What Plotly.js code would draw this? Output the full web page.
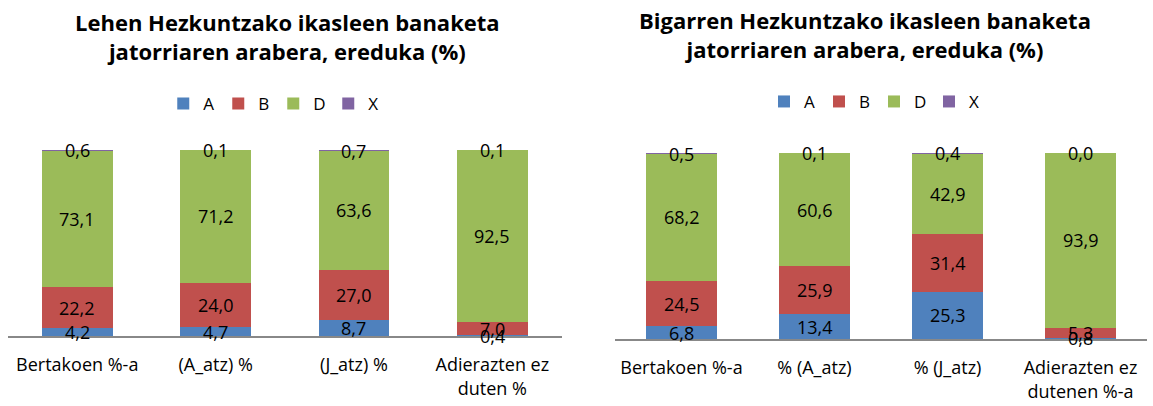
<!DOCTYPE html>
<html><head><meta charset="utf-8">
<script src="https://cdn.plot.ly/plotly-3.0.1.min.js"></script>
<style>body{margin:0}#c{width:1153px;height:406px}</style>
</head><body><div id="c"></div>
<script>
const series = ['A','B','D','X'];
const colors = ['#4F81BD','#C0504D','#9BBB59','#8064A2'];

const catsLeft = ['Bertakoen %-a','(A_atz) %','(J_atz) %','Adierazten ez<br>duten %'];
const leftA = [4.2, 4.7, 8.7, 0.4];
const leftB = [22.2, 24.0, 27.0, 7.0];
const leftD = [73.1, 71.2, 63.6, 92.5];
const leftX = [0.6, 0.1, 0.7, 0.1];

const catsRight = ['Bertakoen %-a','% (A_atz)','% (J_atz)','Adierazten ez<br>dutenen %-a'];
const rightA = [6.8, 13.4, 25.3, 0.8];
const rightB = [24.5, 25.9, 31.4, 5.3];
const rightD = [68.2, 60.6, 42.9, 93.9];
const rightX = [0.5, 0.1, 0.4, 0.0];

const titleLeft = '<b>Lehen Hezkuntzako ikasleen banaketa<br>jatorriaren arabera, ereduka (%)</b>';
const titleRight = '<b>Bigarren Hezkuntzako ikasleen banaketa<br>jatorriaren arabera, ereduka (%)</b>';

const FONT = 'Open Sans, Liberation Sans, sans-serif';
const leftVals = [leftA, leftB, leftD, leftX];
const rightVals = [rightA, rightB, rightD, rightX];

const traces = [];
const annotations = [];
const fmt = v => v.toFixed(1).replace('.', ',');

function addChart(cats, vals, xa, ya, lg, w) {
  series.forEach((s, i) => {
    traces.push({
      type: 'bar', name: s, x: cats, y: vals[i],
      xaxis: xa, yaxis: ya, legend: lg,
      marker: {color: colors[i]}, width: w, hoverinfo: 'skip'
    });
  });
  cats.forEach((c, j) => {
    let base = 0;
    vals.forEach((arr, i) => {
      const v = arr[j];
      annotations.push({
        text: fmt(v), x: c, y: base + v / 2, xref: xa, yref: ya,
        showarrow: false, xanchor: 'center', yanchor: 'middle',
        font: {size: 18, family: FONT, color: '#000'}
      });
      base += v;
    });
  });
}
addChart(catsLeft, leftVals, 'x', 'y', 'legend', 0.51);
addChart(catsRight, rightVals, 'x2', 'y2', 'legend2', 0.53);

annotations.push(
  {text: titleLeft, xref: 'paper', yref: 'paper', x: 0.249, y: 0.909, showarrow: false,
   xanchor: 'center', yanchor: 'middle', font: {size: 22, family: FONT, color: '#000'}},
  {text: titleRight, xref: 'paper', yref: 'paper', x: 0.750, y: 0.914, showarrow: false,
   xanchor: 'center', yanchor: 'middle', font: {size: 22, family: FONT, color: '#000'}}
);

const xax = (dom, anchor) => ({
  domain: dom, anchor: anchor, showline: true, linecolor: '#888', linewidth: 1.5,
  ticks: '', showgrid: false, zeroline: false, ticklabelstandoff: 12,
  tickfont: {size: 18, family: FONT, color: '#000'}, fixedrange: true
});
const yax = (dom, anchor) => ({
  domain: dom, anchor: anchor, range: [0, 100], visible: false, showgrid: false, zeroline: false
});

const legendCommon = {
  orientation: 'h', xanchor: 'center', yanchor: 'middle',
  font: {size: 17, family: FONT, color: '#000'}, itemwidth: 30, traceorder: 'normal',
  entrywidth: 10, entrywidthmode: 'pixels',
  bgcolor: 'rgba(0,0,0,0)'
};

const layout = {
  width: 1153, height: 406,
  margin: {l: 0, r: 0, t: 0, b: 0},
  paper_bgcolor: '#fff', plot_bgcolor: '#fff',
  barmode: 'stack', separators: ',.',
  showlegend: true,
  xaxis: xax([0.007, 0.487], 'y'),
  yaxis: yax([0.1724, 0.6305], 'x'),
  xaxis2: xax([0.5334, 0.9948], 'y2'),
  yaxis2: yax([0.165, 0.623], 'x2'),
  legend: Object.assign({x: 0.237, y: 0.744}, legendCommon),
  legend2: Object.assign({x: 0.758, y: 0.749}, legendCommon),
  annotations: annotations
};

Plotly.newPlot('c', traces, layout, {displayModeBar: false, staticPlot: true});
</script></body></html>
